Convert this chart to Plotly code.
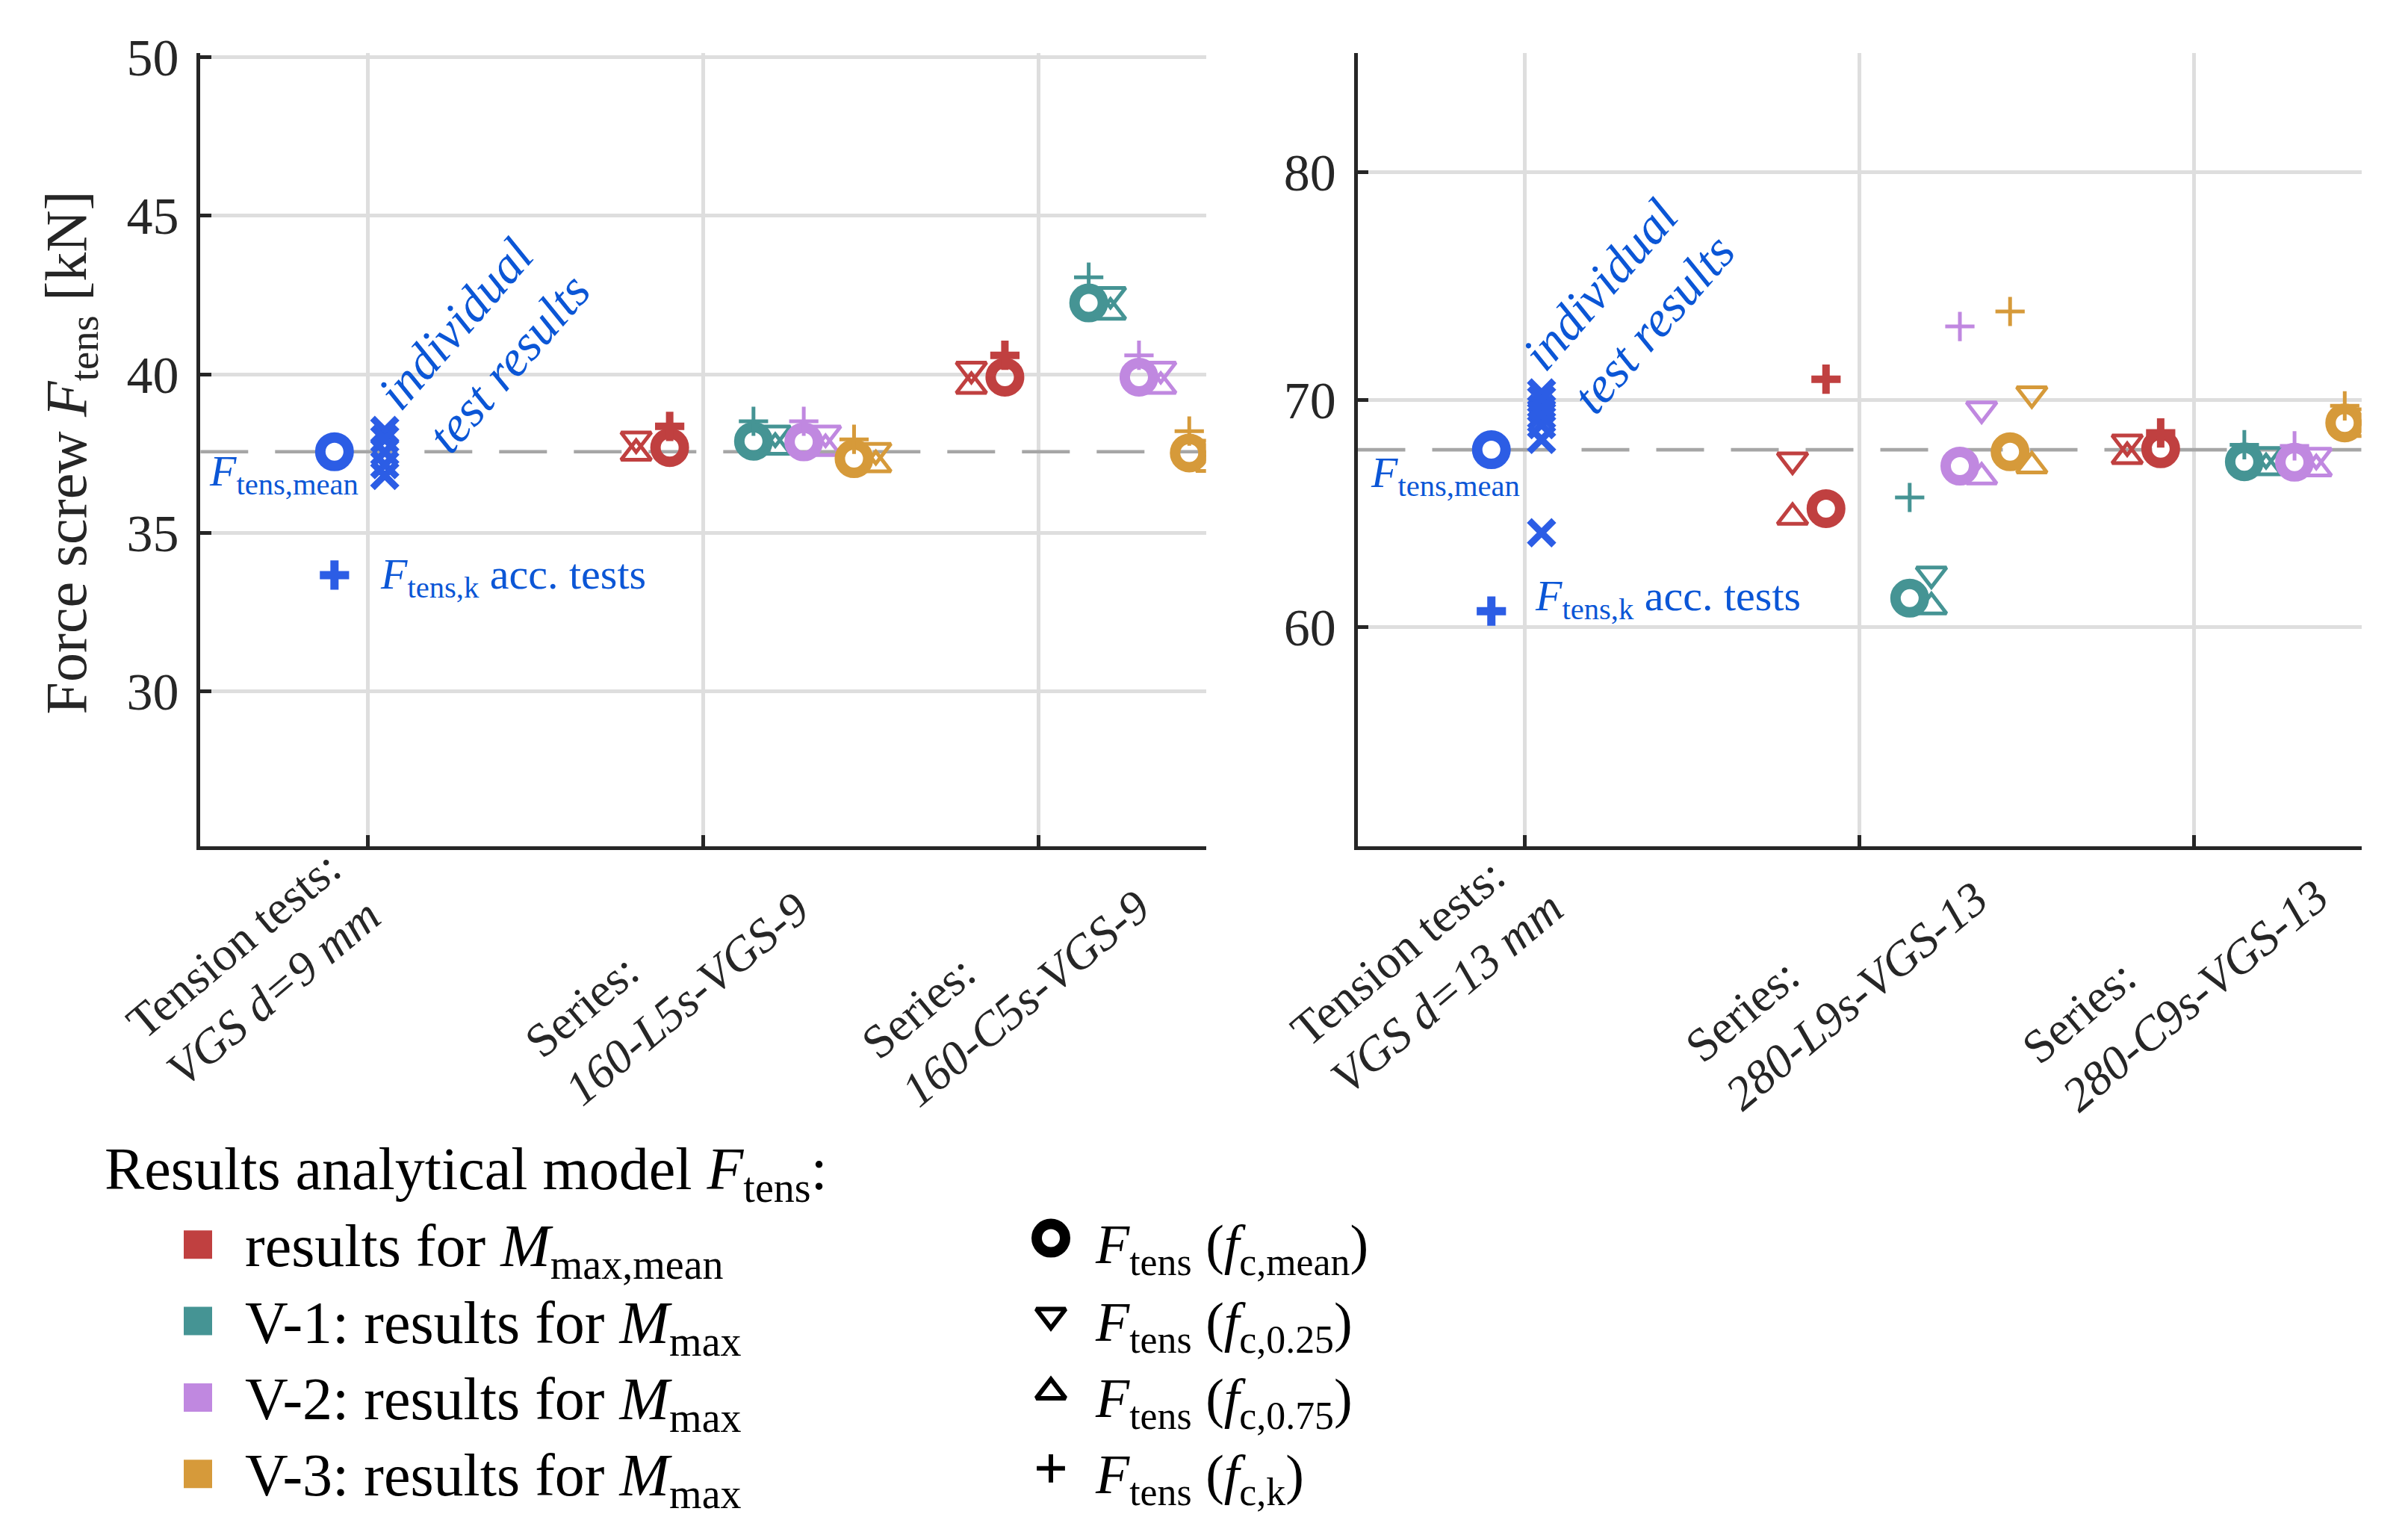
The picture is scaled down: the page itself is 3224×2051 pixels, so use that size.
import plotly.graph_objects as go

W, H = 3224, 2051
FONT = "Liberation Serif"
AX_COLOR = "#262626"
GRID_COLOR = "#DEDEDE"
DASH_COLOR = "#A6A6A6"
BLUE_MARK = "#2C5DE5"
BLUE_TEXT = "#0B56D6"

# ---------------- data ----------------
categories = [1, 2, 3]
variant_names = ["results for <i>M</i><sub>max,mean</sub>",
                 "V-1: results for <i>M</i><sub>max</sub>",
                 "V-2: results for <i>M</i><sub>max</sub>",
                 "V-3: results for <i>M</i><sub>max</sub>"]
variant_colors = ["#C04040", "#459494", "#C088E0", "#D69A3A"]

left_ticktext = ["Tension tests:<br><i>VGS d=9 mm</i>",
                 "Series:<br><i>160-L5s-VGS-9</i>",
                 "Series:<br><i>160-C5s-VGS-9</i>"]
right_ticktext = ["Tension tests:<br><i>VGS d=13 mm</i>",
                  "Series:<br><i>280-L9s-VGS-13</i>",
                  "Series:<br><i>280-C9s-VGS-13</i>"]
left_yticks = [30, 35, 40, 45, 50]
right_yticks = [60, 70, 80]

# tension tests d=9
t9_mean = 37.56
t9_k = 33.67
t9_tests = [38.23, 37.95, 37.55, 37.15, 36.81]
# tension tests d=13
t13_mean = 67.8
t13_k = 60.7
t13_tests = [70.3, 70.0, 69.6, 69.3, 68.9, 68.25, 64.15]

# analytical model, series 2 and 3, per variant [red, teal, purple, orange]
left_fmean = [[37.69, 39.91], [37.89, 42.25], [37.87, 39.91], [37.34, 37.52]]
left_f25 = [[37.96, 40.16], [38.15, 42.52], [38.15, 40.16], [37.60, 37.70]]
left_f75 = [[37.51, 39.62], [37.70, 41.96], [37.66, 39.62], [37.15, 37.16]]
left_fk = [[38.36, 40.60], [38.52, 43.06], [38.52, 40.60], [37.95, 38.21]]

right_fmean = [[65.21, 67.84], [61.27, 67.27], [67.08, 67.25], [67.71, 68.98]]
right_f25 = [[67.35, 68.14], [62.33, 67.59], [69.59, 67.56], [70.26, 69.29]]
right_f75 = [[64.83, 67.50], [60.89, 67.01], [66.60, 66.96], [67.09, 68.69]]
right_fk = [[70.90, 68.54], [65.70, 68.02], [73.22, 67.97], [73.88, 69.73]]

symbol_labels = ["<i>F</i><sub>tens</sub> (<i>f</i><sub>c,mean</sub>)",
                 "<i>F</i><sub>tens</sub> (<i>f</i><sub>c,0.25</sub>)",
                 "<i>F</i><sub>tens</sub> (<i>f</i><sub>c,0.75</sub>)",
                 "<i>F</i><sub>tens</sub> (<i>f</i><sub>c,k</sub>)"]

# ---------------- layout constants ----------------
CIRC_OFF = [-0.10, 0.15, 0.30, 0.45]
TRI_OFF = [-0.20, 0.215, 0.365, 0.515]
TEST_MEAN_OFF = -0.10
TEST_X_OFF = 0.05

PLOT_TOP, PLOT_BOT = 78.3, 1136.5
LX0, LX1 = 264.3, 1610.7
RX0, RX1 = 1813.5, 3157.7
LEFT_YR = [25.12, 50.14]
RIGHT_YR = [50.36, 85.26]

# small correction of vertical placement
Y_SHIFT, Y_SCALE = 16.0, 0.996
X_SHIFT = -4.0


def sety(y):
    return (y - Y_SHIFT) / Y_SCALE


def px(x):
    return (x + X_SHIFT) / W


def py(y):
    return 1 - sety(y) / H


fig = go.Figure()

CIRCLE = dict(symbol="circle-open", size=38, line=dict(width=14))
TRI_D = dict(symbol="triangle-down-open", size=35, line=dict(width=5))
TRI_U = dict(symbol="triangle-up-open", size=35, line=dict(width=5))


def mk(base, color, lw=None, size=None):
    d = dict(base)
    d["color"] = color
    if size:
        d["size"] = size
    d["line"] = dict(width=(lw if lw else base["line"]["width"]), color=color)
    return d


def add_panel(xa, ya, mean, k, tests, fmean, f25, f75, fk):
    # dashed mean line
    fig.add_trace(go.Scatter(x=[0.5, 3.5], y=[mean, mean], mode="lines",
                             line=dict(color=DASH_COLOR, width=4.7, dash="64px,36px"),
                             xaxis=xa, yaxis=ya, hoverinfo="skip", showlegend=False))
    # tension tests
    fig.add_trace(go.Scatter(x=[categories[0] + TEST_MEAN_OFF], y=[mean], mode="markers",
                             marker=mk(CIRCLE, BLUE_MARK), xaxis=xa, yaxis=ya, showlegend=False))
    fig.add_trace(go.Scatter(x=[categories[0] + TEST_X_OFF] * len(tests), y=tests, mode="markers",
                             marker=dict(symbol="x-thin-open", size=33, color=BLUE_MARK,
                                         line=dict(width=9, color=BLUE_MARK)),
                             xaxis=xa, yaxis=ya, showlegend=False))
    fig.add_trace(go.Scatter(x=[categories[0] + TEST_MEAN_OFF], y=[k], mode="markers",
                             marker=dict(symbol="cross-thin-open", size=28, color=BLUE_MARK,
                                         line=dict(width=11, color=BLUE_MARK)),
                             xaxis=xa, yaxis=ya, showlegend=False))
    # analytical model
    sx = categories[1:]
    for i, col in enumerate(variant_colors):
        xc = [c + CIRC_OFF[i] for c in sx]
        xt = [c + TRI_OFF[i] for c in sx]
        plw = 10 if i == 0 else 5
        fig.add_trace(go.Scatter(x=xc, y=fmean[i], mode="markers", marker=mk(CIRCLE, col),
                                 xaxis=xa, yaxis=ya, showlegend=False))
        fig.add_trace(go.Scatter(x=xt, y=f25[i], mode="markers", marker=mk(TRI_D, col),
                                 xaxis=xa, yaxis=ya, showlegend=False))
        fig.add_trace(go.Scatter(x=xt, y=f75[i], mode="markers", marker=mk(TRI_U, col),
                                 xaxis=xa, yaxis=ya, showlegend=False))
        fig.add_trace(go.Scatter(x=xc, y=fk[i], mode="markers",
                                 marker=dict(symbol="cross-thin-open", size=28, color=col,
                                             line=dict(width=plw, color=col)),
                                 xaxis=xa, yaxis=ya, showlegend=False))


add_panel("x", "y", t9_mean, t9_k, t9_tests, left_fmean, left_f25, left_f75, left_fk)
add_panel("x2", "y2", t13_mean, t13_k, t13_tests, right_fmean, right_f25, right_f75, right_fk)

# legend markers on a hidden helper axis placed below the panels (page pixel coordinates)
LEG_TOP = 1450
LEG_SQ_X = 261
LEG_ROWS_SQ = [1667.5, 1769.5, 1871.5, 1973.5]
LEG_SYM_X = 1403
LEG_ROWS_SYM = [1659, 1762, 1864, 1966]
fig.add_trace(go.Scatter(x=[LEG_SQ_X + X_SHIFT] * 4, y=[sety(v) for v in LEG_ROWS_SQ], mode="markers",
                         marker=dict(symbol="square", size=38, color=variant_colors, line=dict(width=0)),
                         xaxis="x3", yaxis="y3", showlegend=False, hoverinfo="skip"))
leg_syms = [mk(CIRCLE, "black"), mk(TRI_D, "black", 6, 34), mk(TRI_U, "black", 6, 34),
            dict(symbol="cross-thin-open", size=27, color="black", line=dict(width=6, color="black"))]
for yy, m in zip(LEG_ROWS_SYM, leg_syms):
    fig.add_trace(go.Scatter(x=[LEG_SYM_X + X_SHIFT], y=[sety(yy)], mode="markers", marker=m,
                             xaxis="x3", yaxis="y3", showlegend=False, hoverinfo="skip"))

TICKFONT = dict(family=FONT, size=70, color=AX_COLOR)
common_x = dict(range=[0.5, 3.5], tickvals=categories, ticktext=["", "", ""], showticklabels=False,
                showgrid=True, gridcolor=GRID_COLOR, gridwidth=4.7, zeroline=False,
                showline=True, linecolor=AX_COLOR, linewidth=4.5, ticks="inside",
                ticklen=15, tickwidth=4.5, tickcolor=AX_COLOR, automargin=False)
common_y = dict(showgrid=True, gridcolor=GRID_COLOR, gridwidth=4.7, zeroline=False,
                showline=True, linecolor=AX_COLOR, linewidth=4.5, ticks="inside",
                ticklen=15, tickwidth=4.5, tickcolor=AX_COLOR, tickfont=TICKFONT,
                ticklabelstandoff=10, automargin=False)

xa1 = dict(common_x); xa1.update(domain=[px(LX0), px(LX1)], anchor="y")
xa2 = dict(common_x); xa2.update(domain=[px(RX0), px(RX1)], anchor="y2")
ya1 = dict(common_y); ya1.update(domain=[py(PLOT_BOT), py(PLOT_TOP)], range=LEFT_YR,
                                 tickvals=left_yticks, anchor="x")
ya2 = dict(common_y); ya2.update(domain=[py(PLOT_BOT), py(PLOT_TOP)], range=RIGHT_YR,
                                 tickvals=right_yticks, anchor="x2")

fig.update_layout(
    width=W, height=H, autosize=False,
    margin=dict(l=0, r=0, t=0, b=0, pad=0),
    paper_bgcolor="white", plot_bgcolor="rgba(0,0,0,0)",
    font=dict(family=FONT, color="black"),
    showlegend=False,
    xaxis=xa1, yaxis=ya1, xaxis2=xa2, yaxis2=ya2,
    xaxis3=dict(domain=[0, 1], range=[0, W], visible=False, fixedrange=True),
    yaxis3=dict(domain=[0, 1 - sety(LEG_TOP) / H], range=[H, sety(LEG_TOP)],
                visible=False, fixedrange=True),
)

ann = []
# x tick labels (rotated, multi-line, left aligned)
tick_centers_left = [(335, 1300), (889, 1308), (1342, 1308)]
tick_centers_right = [(1906, 1300), (2455, 1304), (2908, 1304)]
for txt, (cx, cy) in list(zip(left_ticktext, tick_centers_left)) + list(zip(right_ticktext, tick_centers_right)):
    ann.append(dict(text=txt, x=px(cx), y=py(cy), xref="paper", yref="paper",
                    xanchor="center", yanchor="middle", textangle=-40, align="left",
                    showarrow=False, font=dict(family=FONT, size=64, color=AX_COLOR)))

# y axis title
ann.append(dict(text="Force screw <i>F</i><sub>tens</sub> [kN]", x=px(90), y=py(612),
                xref="paper", yref="paper", xanchor="center", yanchor="middle",
                textangle=-90, showarrow=False, font=dict(family=FONT, size=78, color=AX_COLOR)))

BLUEFONT = dict(family=FONT, size=58, color=BLUE_TEXT)
ROTFONT = dict(family=FONT, size=68, color=BLUE_TEXT)
# blue annotations
ann += [
    dict(text="<i>F</i><sub>tens,mean</sub>", x=0.522, y=36.86, xref="x", yref="y",
         xanchor="left", yanchor="middle", showarrow=False, font=BLUEFONT),
    dict(text="<i>F</i><sub>tens,k</sub> acc. tests", x=1.032, y=33.6, xref="x", yref="y",
         xanchor="left", yanchor="middle", showarrow=False, font=BLUEFONT),
    dict(text="<i>individual<br>test results</i>", x=1.344, y=41.05, xref="x", yref="y",
         xanchor="center", yanchor="middle", textangle=-49, align="left", showarrow=False,
         font=ROTFONT),
    dict(text="<i>F</i><sub>tens,mean</sub>", x=0.535, y=66.66, xref="x2", yref="y2",
         xanchor="left", yanchor="middle", showarrow=False, font=BLUEFONT),
    dict(text="<i>F</i><sub>tens,k</sub> acc. tests", x=1.026, y=61.24, xref="x2", yref="y2",
         xanchor="left", yanchor="middle", showarrow=False, font=BLUEFONT),
    dict(text="<i>individual<br>test results</i>", x=1.31, y=74.3, xref="x2", yref="y2",
         xanchor="center", yanchor="middle", textangle=-49, align="left", showarrow=False,
         font=ROTFONT),
]

# legend texts
ann.append(dict(text="Results analytical model <i>F</i><sub>tens</sub>:", x=px(134), y=py(1573),
                xref="paper", yref="paper", xanchor="left", yanchor="middle",
                showarrow=False, font=dict(family=FONT, size=80, color="black")))
for name, yy in zip(variant_names, LEG_ROWS_SQ):
    ann.append(dict(text=name, x=px(322), y=py(yy + 8), xref="paper", yref="paper",
                    xanchor="left", yanchor="middle", showarrow=False,
                    font=dict(family=FONT, size=80, color="black")))
for name, yy in zip(symbol_labels, LEG_ROWS_SYM):
    ann.append(dict(text=name, x=px(1460), y=py(yy + 14), xref="paper", yref="paper",
                    xanchor="left", yanchor="middle", showarrow=False,
                    font=dict(family=FONT, size=74, color="black")))

fig.update_layout(annotations=ann)
fig.write_html("out.html")
